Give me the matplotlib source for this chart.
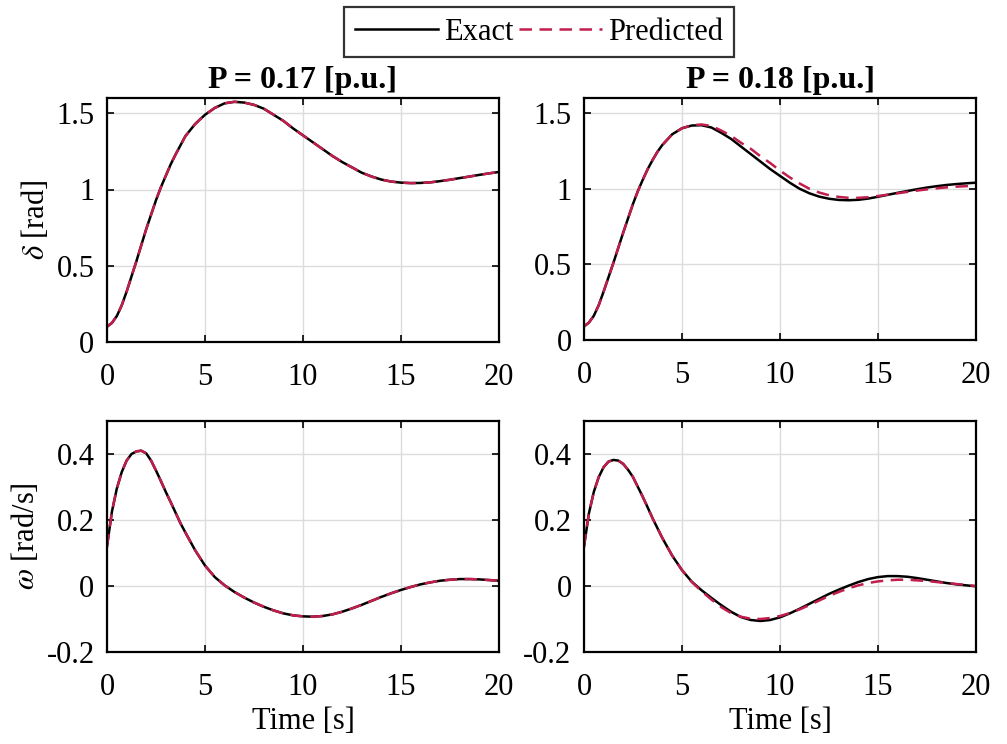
import numpy as np
import matplotlib
matplotlib.use("Agg")
import matplotlib.pyplot as plt

# ---------------------------------------------------------------------
# Donnees (pas de 0.25 s jusqu'a 4 s, puis 0.5 s)
# ---------------------------------------------------------------------
t = np.concatenate([np.arange(0, 4.0, 0.25), np.arange(4.0, 20.01, 0.5)])

# P = 0.17 p.u. : exact et predit se superposent
delta_exact_017 = [0.10, 0.125, 0.17, 0.24, 0.33, 0.43, 0.53, 0.635, 0.74, 0.835,
                   0.93, 1.015, 1.09, 1.165, 1.23, 1.29,
                   1.35, 1.43, 1.49, 1.535, 1.565, 1.575, 1.57, 1.555, 1.53, 1.49,
                   1.45, 1.40, 1.355, 1.31, 1.265, 1.22, 1.18, 1.145, 1.11, 1.085,
                   1.065, 1.052, 1.045, 1.042, 1.043, 1.047, 1.055, 1.064, 1.075, 1.085,
                   1.096, 1.106, 1.115]
delta_pred_017 = list(delta_exact_017)

omega_exact_017 = [0.12, 0.225, 0.295, 0.345, 0.38, 0.40, 0.408, 0.41, 0.402, 0.38,
                   0.35, 0.318, 0.285, 0.254, 0.222, 0.19,
                   0.162, 0.108, 0.062, 0.027, 0.002, -0.018, -0.035, -0.05, -0.063, -0.074,
                   -0.083, -0.089, -0.092, -0.093, -0.091, -0.086, -0.078, -0.068, -0.057, -0.045,
                   -0.033, -0.022, -0.012, -0.003, 0.005, 0.011, 0.016, 0.019, 0.021, 0.021,
                   0.020, 0.018, 0.016]
omega_pred_017 = list(omega_exact_017)

# P = 0.18 p.u.
delta_exact_018 = [0.09, 0.115, 0.16, 0.23, 0.32, 0.415, 0.51, 0.61, 0.71, 0.805,
                   0.90, 0.985, 1.06, 1.13, 1.19, 1.245,
                   1.29, 1.36, 1.40, 1.418, 1.42, 1.405, 1.37, 1.33, 1.28, 1.23,
                   1.18, 1.13, 1.085, 1.04, 1.00, 0.97, 0.948, 0.934, 0.926, 0.924,
                   0.927, 0.935, 0.947, 0.96, 0.973, 0.985, 0.997, 1.008, 1.017, 1.025,
                   1.031, 1.036, 1.04]
delta_pred_018 = [0.09, 0.115, 0.16, 0.23, 0.32, 0.415, 0.51, 0.61, 0.71, 0.805,
                  0.90, 0.985, 1.06, 1.13, 1.19, 1.245,
                  1.29, 1.36, 1.40, 1.42, 1.425, 1.415, 1.385, 1.35, 1.305, 1.265,
                  1.215, 1.17, 1.12, 1.075, 1.035, 1.00, 0.975, 0.957, 0.946, 0.94,
                  0.94, 0.944, 0.952, 0.961, 0.97, 0.979, 0.988, 0.996, 1.003, 1.009,
                  1.014, 1.017, 1.02]

omega_exact_018 = [0.12, 0.22, 0.285, 0.33, 0.36, 0.377, 0.382, 0.38, 0.37, 0.352,
                   0.33, 0.30, 0.27, 0.238, 0.205, 0.175,
                   0.145, 0.092, 0.048, 0.013, -0.013, -0.036, -0.058, -0.078, -0.094, -0.103,
                   -0.106, -0.103, -0.095, -0.083, -0.069, -0.054, -0.039, -0.024, -0.011, 0.001,
                   0.012, 0.021, 0.027, 0.030, 0.030, 0.028, 0.024, 0.019, 0.014, 0.009,
                   0.005, 0.002, -0.001]
omega_pred_018 = [0.12, 0.22, 0.285, 0.33, 0.36, 0.377, 0.382, 0.38, 0.37, 0.352,
                  0.33, 0.30, 0.27, 0.238, 0.205, 0.175,
                  0.145, 0.092, 0.048, 0.012, -0.016, -0.041, -0.064, -0.082, -0.093, -0.099,
                  -0.100, -0.097, -0.091, -0.082, -0.071, -0.058, -0.044, -0.030, -0.018, -0.007,
                  0.002, 0.009, 0.014, 0.017, 0.019, 0.019, 0.017, 0.015, 0.012, 0.009,
                  0.006, 0.003, 0.0]

titres = ["P = 0.17 [p.u.]", "P = 0.18 [p.u.]"]

# ---------------------------------------------------------------------
# Style
# ---------------------------------------------------------------------
plt.rcParams["font.family"] = ["Liberation Serif", "DejaVu Serif"]
plt.rcParams["mathtext.fontset"] = "stix"
plt.rcParams["font.size"] = 22

ROUGE = "#C01E4C"

fig = plt.figure(figsize=(10.07, 7.44), dpi=100)

W = 392 / 1007
positions = {
    (0, 0): [107 / 1007, 402 / 744, W, 244 / 744],
    (0, 1): [584 / 1007, 404 / 744, W, 242 / 744],
    (1, 0): [107 / 1007, 92 / 744, W, 231 / 744],
    (1, 1): [584 / 1007, 92 / 744, W, 231 / 744],
}

donnees = {
    (0, 0): (delta_exact_017, delta_pred_017),
    (0, 1): (delta_exact_018, delta_pred_018),
    (1, 0): (omega_exact_017, omega_pred_017),
    (1, 1): (omega_exact_018, omega_pred_018),
}

for (r, c), pos in positions.items():
    ax = fig.add_axes(pos)
    exact, pred = donnees[(r, c)]
    l1, = ax.plot(t, exact, color="black", lw=1.8, label="Exact")
    l2, = ax.plot(t, pred, color=ROUGE, lw=1.8, ls=(0, (5, 3)), label="Predicted")

    ax.set_xlim(0, 20)
    ax.set_xticks([0, 5, 10, 15, 20])
    if r == 0:
        ax.set_ylim(0, 1.6)
        ax.set_yticks([0, 0.5, 1, 1.5])
        ax.set_yticklabels(["0", "0.5", "1", "1.5"])
        ax.set_title(titres[c], fontweight="bold", fontsize=23, pad=7)
        if c == 0:
            ax.set_ylabel(r"$\delta$ [rad]", labelpad=4)
    else:
        ax.set_ylim(-0.2, 0.5)
        ax.set_yticks([-0.2, 0, 0.2, 0.4])
        ax.set_yticklabels(["-0.2", "0", "0.2", "0.4"])
        ax.set_xlabel("Time [s]", labelpad=4)
        if c == 0:
            ax.set_ylabel(r"$\omega$ [rad/s]", labelpad=4)

    ax.grid(True, color="#dcdcdc", lw=1.0)
    ax.set_axisbelow(True)
    ax.tick_params(direction="in", top=True, right=True, length=5, width=1.2,
                   labelsize=22)
    ax.tick_params(axis="x", pad=15)
    ax.tick_params(axis="y", pad=9)
    for sp in ax.spines.values():
        sp.set_linewidth(1.6)

leg = fig.legend([l1, l2], ["Exact", "Predicted"], loc="upper center",
                 bbox_to_anchor=(539 / 1007, 1 - 7 / 744), ncol=2,
                 frameon=True, fancybox=False, edgecolor="black",
                 handlelength=2.7, handletextpad=0.2, columnspacing=0.2,
                 borderpad=0.35, borderaxespad=0, fontsize=22)
leg.get_frame().set_linewidth(1.6)

fig.savefig("out.png", dpi=100)
